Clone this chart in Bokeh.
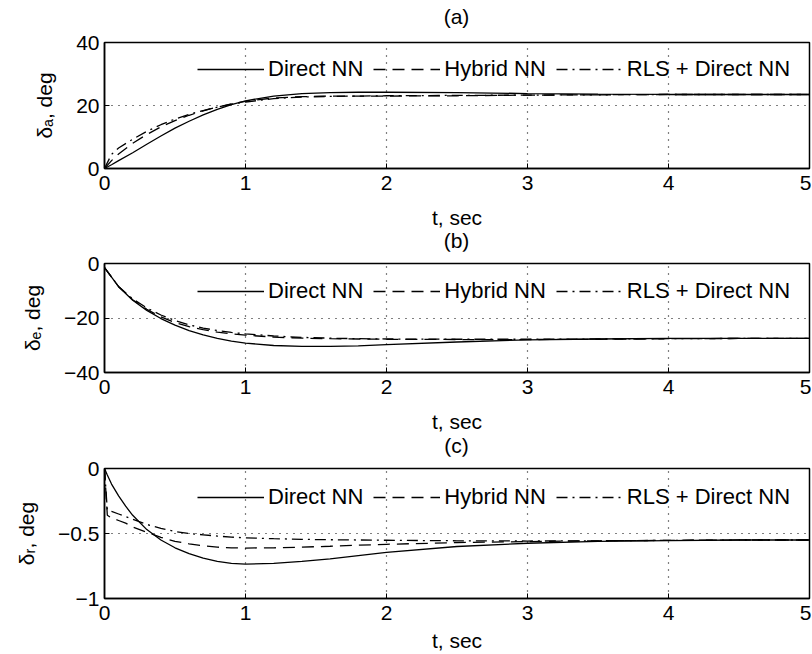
from bokeh.plotting import figure
from bokeh.layouts import column
from bokeh.models import Range1d, FixedTicker, Legend, LegendItem, Div
from bokeh.embed import file_html
from bokeh.resources import INLINE

# ---------------- data ----------------
t_ab = [0, 0.05, 0.1, 0.2, 0.3, 0.4, 0.5, 0.6, 0.7, 0.8, 0.9, 1.0, 1.2, 1.4, 1.6, 1.8, 2.0, 2.5, 3.0, 3.5, 4.0, 4.5, 5.0]

direct_a = [0, 1.2, 2.5, 5.0, 7.7, 10.3, 12.8, 15.0, 17.0, 18.8, 20.3, 21.5, 23.0, 23.8, 24.1, 24.2, 24.2, 24.1, 23.8, 23.6, 23.5, 23.5, 23.5]
hybrid_a = [0, 2.5, 4.6, 8.0, 10.8, 13.2, 15.2, 16.9, 18.3, 19.5, 20.5, 21.3, 22.4, 22.8, 23.0, 23.0, 23.0, 23.1, 23.3, 23.4, 23.5, 23.5, 23.5]
rls_a = [0, 4.5, 6.5, 9.3, 11.8, 13.9, 15.7, 17.2, 18.4, 19.5, 20.4, 21.1, 22.2, 22.7, 22.9, 23.0, 23.1, 23.2, 23.3, 23.4, 23.5, 23.5, 23.5]

direct_b = [-1.5, -5.0, -8.5, -13.5, -17.2, -20.2, -22.6, -24.6, -26.2, -27.5, -28.5, -29.2, -30.1, -30.4, -30.4, -30.2, -29.8, -28.8, -28.0, -27.7, -27.5, -27.5, -27.5]
hybrid_b = [-1.5, -5.0, -8.5, -13.3, -16.8, -19.6, -21.7, -23.2, -24.3, -25.2, -25.8, -26.3, -27.0, -27.4, -27.6, -27.7, -27.8, -27.9, -27.9, -27.8, -27.6, -27.5, -27.5]
rls_b = [-1.5, -5.0, -8.4, -13.0, -16.3, -18.9, -20.9, -22.5, -23.7, -24.6, -25.3, -25.8, -26.6, -27.1, -27.4, -27.6, -27.7, -27.8, -27.8, -27.7, -27.6, -27.5, -27.5]

t_c = [0, 0.02, 0.05, 0.1, 0.15, 0.2, 0.3, 0.4, 0.5, 0.6, 0.7, 0.8, 0.9, 1.0, 1.2, 1.4, 1.6, 1.8, 2.0, 2.5, 3.0, 3.5, 4.0, 4.5, 5.0]
direct_c = [0, -0.05, -0.12, -0.21, -0.29, -0.36, -0.47, -0.55, -0.61, -0.655, -0.69, -0.715, -0.73, -0.735, -0.73, -0.715, -0.695, -0.67, -0.645, -0.60, -0.575, -0.56, -0.555, -0.55, -0.55]
hybrid_c = [0, -0.36, -0.38, -0.40, -0.42, -0.45, -0.49, -0.53, -0.56, -0.58, -0.595, -0.605, -0.61, -0.612, -0.61, -0.605, -0.598, -0.59, -0.583, -0.57, -0.562, -0.556, -0.553, -0.55, -0.55]
rls_c = [0, -0.32, -0.33, -0.35, -0.37, -0.39, -0.43, -0.46, -0.485, -0.50, -0.51, -0.52, -0.528, -0.533, -0.54, -0.545, -0.548, -0.55, -0.552, -0.556, -0.558, -0.556, -0.553, -0.55, -0.55]

series_names = ["Direct NN", "Hybrid NN", "RLS + Direct NN"]
panel_titles = ["(a)", "(b)", "(c)"]
x_axis_label = "t, sec"
y_axis_labels = ["\u03b4\u2090, deg", "\u03b4\u2091, deg", "\u03b4\u1d63, deg"]
x_ticks = [0, 1, 2, 3, 4, 5]
x_tick_labels = ["0", "1", "2", "3", "4", "5"]
ya_ticks = [0, 20, 40]
ya_labels = ["0", "20", "40"]
yb_ticks = [-40, -20, 0]
yb_labels = ["\u221240", "\u221220", "0"]
yc_ticks = [-1, -0.5, 0]
yc_labels = ["\u22121", "\u22120.5", "0"]

FONT = "Liberation Sans"
FS = "21px"
DASHES = ["solid", "12 7", "11 5 2 5"]
LEFT = 104
FRAME_W = 705


def title_div(text, height, top=0):
    return Div(text=text, width=FRAME_W, height=height, margin=(top, 0, 0, LEFT),
               styles={"font-family": FONT, "font-size": FS, "color": "black",
                       "text-align": "center", "line-height": f"{height}px",
                       "overflow": "visible", "white-space": "nowrap"})


def make_panel(t, ys, yrange, yticks, ylabels, ylabel, frame_h, top, bottom,
               legend_y, tick_standoff, xlab_standoff):
    p = figure(frame_width=FRAME_W, frame_height=frame_h,
               min_border_left=LEFT, min_border_right=2,
               min_border_top=top, min_border_bottom=bottom,
               x_range=Range1d(0, 5), y_range=Range1d(*yrange),
               output_backend="svg", toolbar_location=None, margin=0)
    p.background_fill_color = "white"
    p.border_fill_color = "white"
    p.outline_line_color = "black"
    p.outline_line_width = 1.5

    renderers = []
    for y, dash in zip(ys, DASHES):
        r = p.line(t, y, line_color="black", line_width=1.3, line_dash=dash)
        renderers.append(r)

    for ax in (p.xaxis[0], p.yaxis[0]):
        ax.axis_line_color = "black"
        ax.axis_line_width = 1.5
        ax.major_tick_in = 5
        ax.major_tick_out = 0
        ax.minor_tick_line_color = None
        ax.major_tick_line_color = "black"
        ax.major_label_text_font = FONT
        ax.major_label_text_font_size = FS
        ax.major_label_text_color = "black"
        ax.axis_label_text_font = FONT
        ax.axis_label_text_font_size = FS
        ax.axis_label_text_font_style = "normal"
        ax.axis_label_text_color = "black"

    p.xaxis.ticker = FixedTicker(ticks=x_ticks)
    p.xaxis.major_label_overrides = dict(zip(x_ticks, x_tick_labels))
    p.xaxis.major_label_standoff = tick_standoff
    p.xaxis.axis_label = x_axis_label
    p.xaxis.axis_label_standoff = xlab_standoff

    p.yaxis.ticker = FixedTicker(ticks=yticks)
    p.yaxis.major_label_overrides = dict(zip(yticks, ylabels))
    p.yaxis.axis_label = ylabel
    p.yaxis.major_label_standoff = 5
    p.yaxis.axis_label_standoff = 17

    for g in (p.xgrid[0], p.ygrid[0]):
        g.grid_line_color = "black"
        g.grid_line_dash = "1 6"
        g.grid_line_width = 1.2
    p.xgrid.ticker = FixedTicker(ticks=x_ticks[1:-1])
    p.ygrid.ticker = FixedTicker(ticks=yticks[1:-1])

    legend = Legend(items=[LegendItem(label=n, renderers=[r]) for n, r in zip(series_names, renderers)],
                    orientation="horizontal", location=(93, legend_y),
                    glyph_width=67, glyph_height=22, label_height=22,
                    label_standoff=4, spacing=10, padding=0, margin=0,
                    label_text_font=FONT, label_text_font_size="22px",
                    label_text_color="black",
                    border_line_alpha=0, background_fill_alpha=0)
    p.add_layout(legend, "center")
    return p


pa = make_panel(t_ab, [direct_a, hybrid_a, rls_a], (0, 40), ya_ticks, ya_labels,
                y_axis_labels[0], 126, 14, 63, 86, 7, 13)
pb = make_panel(t_ab, [direct_b, hybrid_b, rls_b], (-40, 0), yb_ticks, yb_labels,
                y_axis_labels[1], 109, 12, 64, 68, 7, 13)
pc = make_panel(t_c, [direct_c, hybrid_c, rls_c], (-1, 0), yc_ticks, yc_labels,
                y_axis_labels[2], 130, 12, 55, 88, 7, 6)

layout = column(title_div(panel_titles[0], 22, top=6), pa,
                title_div(panel_titles[1], 20), pb,
                title_div(panel_titles[2], 20), pc, spacing=0)
open("out.html", "w").write(file_html(layout, INLINE))
